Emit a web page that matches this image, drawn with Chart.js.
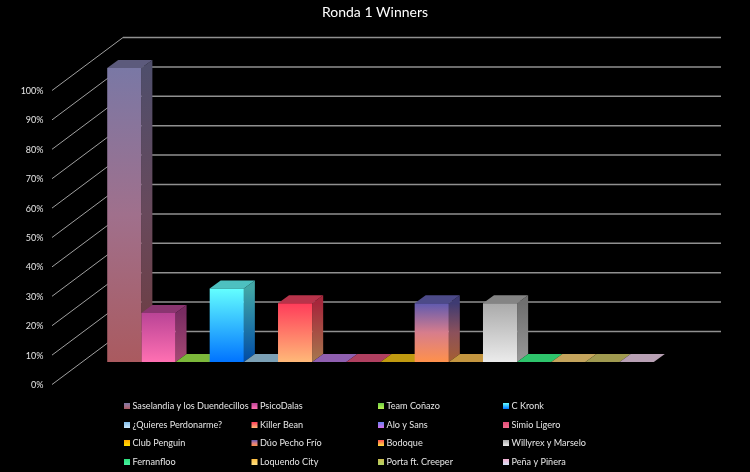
<!DOCTYPE html>
<html>
<head>
<meta charset="utf-8">
<style>
  html, body { margin: 0; padding: 0; background: #000; }
  canvas { display: block; }
</style>
<script src="https://cdn.jsdelivr.net/npm/chart.js@4"></script>
</head>
<body>
<canvas id="chart" width="750" height="472"></canvas>
<script>
const chartTitle = "Ronda 1 Winners";
const groupLabels = ["Ronda 1"];
const seriesNames = [
  "Saselandia y los Duendecillos", "PsicoDalas", "Team Coñazo", "C Kronk",
  "¿Quieres Perdonarme?", "Killer Bean", "Alo y Sans", "Simio Ligero",
  "Club Penguin", "Dúo Pecho Frío", "Bodoque", "Willyrex y Marselo",
  "Fernanfloo", "Loquendo City", "Porta ft. Creeper", "Peña y Piñera"
];
const seriesValues = [100, 16.7, 0, 25, 0, 20, 0, 0, 0, 20, 0, 20, 0, 0, 0, 0];
const tickLabels = ["0%", "10%", "20%", "30%", "40%", "50%", "60%", "70%", "80%", "90%", "100%"];

// gradient stops top -> bottom
const seriesStops = [
  [[122, 120, 165], [160, 112, 140], [170, 90, 95]],
  [[186, 68, 150], [255, 112, 178]],
  [[110, 205, 70], [185, 240, 80]],
  [[100, 255, 255], [0, 115, 255]],
  [[130, 190, 235], [200, 230, 250]],
  [[255, 60, 90], [255, 185, 120]],
  [[105, 130, 240], [210, 110, 235]],
  [[225, 75, 120], [240, 110, 140]],
  [[255, 165, 0], [255, 225, 0]],
  [[95, 90, 175], [215, 125, 140], [255, 145, 75]],
  [[255, 80, 80], [255, 225, 65]],
  [[170, 170, 170], [235, 235, 235]],
  [[45, 225, 125], [70, 240, 160]],
  [[255, 190, 65], [255, 225, 130]],
  [[205, 190, 80], [175, 210, 100]],
  [[245, 175, 210], [210, 225, 245]]
];
const topFaces = [
  "#5c5a7c", "#8a3570", "#7cb83a", "#4dc0c0", "#7ba0b5", "#b8334a", "#8f5fb0", "#b04060",
  "#c09a10", "#4c4a88", "#c49640", "#848484", "#2ec46c", "#c4a45c", "#a09a50", "#b8a0b4"
];

const DEPTH_X = 11, DEPTH_Y = 8;
const FRONT_X = -29.5, FRONT_Y = 22, BACK_X = 41.5, BACK_Y = -31;
const legendCols = [124, 251.5, 378, 503];
const legendRows = [406, 425, 443, 462];

const rgb = (c, k = 1) => `rgb(${c.map(v => Math.round(v * k)).join(",")})`;

function gradient(ctx, x0, y0, x1, y1, stops, k) {
  const g = ctx.createLinearGradient(x0, y0, x1, y1);
  stops.forEach((c, i) => g.addColorStop(i / (stops.length - 1), rgb(c, k)));
  return g;
}

const wallPlugin = {
  id: "wall",
  beforeDatasetsDraw(chart) {
    const { ctx, chartArea: a, scales: { y } } = chart;
    ctx.save();
    y.ticks.forEach(t => {
      const p = y.getPixelForValue(t.value);
      ctx.strokeStyle = "#a0a0a0";
      ctx.lineWidth = 1;
      ctx.beginPath();
      ctx.moveTo(a.left + FRONT_X, p + FRONT_Y + 0.5);
      ctx.lineTo(a.left + BACK_X, p + BACK_Y + 0.5);
      ctx.stroke();
      ctx.strokeStyle = "#909090";
      ctx.lineWidth = 1.5;
      ctx.beginPath();
      ctx.moveTo(a.left + BACK_X, p + BACK_Y + 0.5);
      ctx.lineTo(a.right + BACK_X, p + BACK_Y + 0.5);
      ctx.stroke();
    });
    // side and top faces, left to right so later ones cover earlier sides
    chart.data.datasets.forEach((ds, i) => {
      const bar = chart.getDatasetMeta(i).data[0];
      const l = bar.x - bar.width / 2, r = bar.x + bar.width / 2;
      const top = bar.y, base = bar.base;
      if (base - top > 0.5) {
        ctx.fillStyle = gradient(ctx, 0, top, 0, base, seriesStops[i], 0.65);
        ctx.beginPath();
        ctx.moveTo(r, top);
        ctx.lineTo(r + DEPTH_X, top - DEPTH_Y);
        ctx.lineTo(r + DEPTH_X, base - DEPTH_Y);
        ctx.lineTo(r, base);
        ctx.closePath();
        ctx.fill();
      }
      ctx.fillStyle = topFaces[i];
      ctx.beginPath();
      ctx.moveTo(l, top);
      ctx.lineTo(l + DEPTH_X, top - DEPTH_Y);
      ctx.lineTo(r + DEPTH_X, top - DEPTH_Y);
      ctx.lineTo(r, top);
      ctx.closePath();
      ctx.fill();
    });
    ctx.restore();
  },
  afterDraw(chart) {
    const { ctx } = chart;
    ctx.save();
    ctx.font = "9.1px Lato";
    ctx.textBaseline = "middle";
    seriesNames.forEach((name, i) => {
      const x = legendCols[i % 4], y = legendRows[Math.floor(i / 4)];
      ctx.fillStyle = gradient(ctx, 0, y - 3, 0, y + 3, seriesStops[i]);
      ctx.fillRect(x, y - 3, 6, 6);
      ctx.fillStyle = "#e6e6e6";
      ctx.fillText(name, x + 8.5, y);
    });
    ctx.restore();
  }
};

new Chart(document.getElementById("chart"), {
  type: "bar",
  data: {
    labels: groupLabels,
    datasets: seriesNames.map((name, i) => ({
      label: name,
      data: [seriesValues[i]],
      backgroundColor(c) {
        const { chart } = c;
        if (!chart.chartArea) return rgb(seriesStops[i][0]);
        const y = chart.scales.y;
        return gradient(chart.ctx, 0, y.getPixelForValue(seriesValues[i]), 0, y.getPixelForValue(0), seriesStops[i]);
      }
    }))
  },
  options: {
    responsive: false,
    animation: false,
    layout: { padding: { top: 4, right: 0, bottom: 110, left: 0 } },
    datasets: { bar: { barPercentage: 1, categoryPercentage: 0.914 } },
    plugins: {
      legend: { display: false },
      tooltip: { enabled: false },
      title: {
        display: true,
        text: chartTitle,
        color: "#ffffff",
        font: { family: "Lato", size: 14, weight: "normal" },
        padding: { top: 0, bottom: 47.2 }
      }
    },
    scales: {
      x: { display: false },
      y: {
        min: 0,
        max: 100,
        afterFit(s) { s.width = 81.5; },
        border: { display: false },
        grid: { display: false, drawTicks: false },
        ticks: {
          stepSize: 10,
          color: "#e6e6e6",
          font: { family: "Lato", size: 9 },
          padding: 38,
          labelOffset: 23,
          callback: (v, i) => tickLabels[i]
        }
      },
      // empty axis, only keeps the room right of the plot so the title stays centred on the page
      spacer: {
        position: "right",
        afterFit(s) { s.width = 70.5; },
        border: { display: false },
        grid: { display: false, drawTicks: false },
        ticks: { display: false }
      }
    }
  },
  plugins: [wallPlugin]
});
</script>
</body>
</html>
